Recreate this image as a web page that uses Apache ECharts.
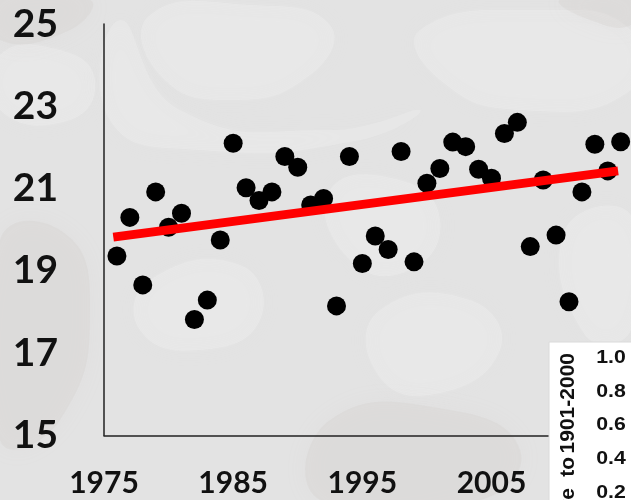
<!DOCTYPE html>
<html>
<head>
<meta charset="utf-8">
<script src="https://cdn.jsdelivr.net/npm/echarts@6/dist/echarts.min.js"></script>
<style>
  html, body { margin: 0; padding: 0; background: #e3e3e3; }
  #chart { width: 631px; height: 500px; }
</style>
</head>
<body>
<div id="chart"></div>
<script>
// Annual values, 1976-2015
const years = [1976, 1977, 1978, 1979, 1980, 1981, 1982, 1983, 1984, 1985,
               1986, 1987, 1988, 1989, 1990, 1991, 1992, 1993, 1994, 1995,
               1996, 1997, 1998, 1999, 2000, 2001, 2002, 2003, 2004, 2005,
               2006, 2007, 2008, 2009, 2010, 2011, 2012, 2013, 2014, 2015];
const values = [19.36, 20.30, 18.66, 20.92, 20.06, 20.40, 17.82, 18.29, 19.75, 22.10,
                21.02, 20.71, 20.92, 21.78, 21.52, 20.60, 20.76, 18.15, 21.78, 19.18,
                19.85, 19.52, 21.90, 19.22, 21.13, 21.49, 22.13, 22.02, 21.47, 21.25,
                22.34, 22.61, 19.59, 21.21, 19.87, 18.25, 20.92, 22.08, 21.43, 22.14];

// Linear trend, start and end
const trendYears = [1975.72, 2014.8];
const trendValues = [19.82, 21.43];

// Inset scale labels (anomaly axis) and its rotated title, word by word
const insetTicks = ['1.0', '0.8', '0.6', '0.4', '0.2'];
const insetTitleWords = ['1901-2000', 'to', 'relative'];

const chart = echarts.init(document.getElementById('chart'), null, { renderer: 'canvas' });

const fontMain = 'Lato, "Open Sans", sans-serif';
const fontInset = '"Liberation Sans", Arial, sans-serif';

// Soft, low-contrast mottled backdrop
const lightPatches = [
  [[150, 15], [250, 5], [330, 25], [310, 75], [230, 100], [160, 75]],
  [[420, 30], [540, 10], [631, 30], [631, 90], [520, 110], [440, 80]],
  [[0, 55], [60, 50], [95, 80], [70, 120], [0, 110]],
  [[330, 190], [400, 180], [440, 220], [410, 270], [350, 260]],
  [[150, 280], [240, 265], [260, 320], [200, 350], [140, 330]],
  [[565, 230], [631, 215], [631, 330], [585, 335]],
  [[380, 310], [470, 300], [500, 350], [430, 395], [375, 370]],
  [[120, 20], [180, 110], [330, 130], [420, 110], [360, 140], [200, 150], [110, 120]]
];
const darkPatches = [
  [[0, 0], [90, 0], [70, 30], [0, 40]],
  [[0, 240], [60, 230], [90, 300], [60, 420], [0, 440]],
  [[330, 420], [450, 410], [520, 450], [480, 500], [320, 500]],
  [[560, 0], [631, 0], [631, 25], [590, 20]]
];
const graphics = [];
lightPatches.forEach(function (pts) {
  graphics.push({
    type: 'polygon', silent: true, z: -10,
    shape: { points: pts, smooth: 0.5 },
    style: { fill: 'rgba(248,248,246,0.24)', shadowBlur: 24, shadowColor: 'rgba(248,248,246,0.35)' }
  });
});
darkPatches.forEach(function (pts) {
  graphics.push({
    type: 'polygon', silent: true, z: -10,
    shape: { points: pts, smooth: 0.5 },
    style: { fill: 'rgba(205,200,196,0.22)', shadowBlur: 24, shadowColor: 'rgba(205,200,196,0.3)' }
  });
});

// Inset panel in the lower right corner
graphics.push({
  type: 'rect', z: 100, silent: true,
  shape: { x: 549, y: 342, width: 90, height: 170 },
  style: { fill: '#ffffff', stroke: '#dadada', lineWidth: 1 }
});
insetTicks.forEach(function (t, i) {
  graphics.push({
    type: 'text', z: 101, silent: true,
    x: 611, y: 358 + i * 33.6, scaleX: 1.12,
    style: { text: t, font: 'bold 19px ' + fontInset, fill: '#111', align: 'center', verticalAlign: 'middle' }
  });
});
// Rotated title, read bottom to top; each word anchored at its upper end
const titleAnchors = [353, 457, 488];
insetTitleWords.forEach(function (w, i) {
  graphics.push({
    type: 'text', z: 101, silent: true,
    x: 568, y: titleAnchors[i], rotation: Math.PI / 2,
    style: { text: w, font: 'bold 21px ' + fontInset, fill: '#111', align: 'right', verticalAlign: 'middle' }
  });
});

const option = {
  backgroundColor: '#e3e3e3',
  animation: false,
  grid: { left: 104, top: 24, right: 0, height: 411.5, containLabel: false },
  xAxis: {
    type: 'value', min: 1975, max: 2015.8, interval: 10,
    axisLine: { show: true, onZero: false, lineStyle: { color: '#222', width: 1.5 } },
    axisTick: { show: false },
    splitLine: { show: false },
    axisLabel: {
      margin: 33, fontSize: 30, fontWeight: 'bold', fontFamily: fontMain, color: '#111',
      showMaxLabel: false,
      formatter: function (v) { return v <= 2005 ? String(v) : ''; }
    }
  },
  yAxis: {
    type: 'value', min: 15, max: 25, interval: 2,
    axisLine: { show: true, onZero: false, lineStyle: { color: '#222', width: 1.5 } },
    axisTick: { show: false },
    splitLine: { show: false },
    axisLabel: { margin: 46, fontSize: 39, fontWeight: 'bold', fontFamily: fontMain, color: '#111' }
  },
  series: [
    {
      type: 'scatter',
      data: years.map(function (y, i) { return [y, values[i]]; }),
      symbolSize: 19,
      itemStyle: { color: '#000', opacity: 1 },
      z: 2
    },
    {
      type: 'line',
      data: trendYears.map(function (y, i) { return [y, trendValues[i]]; }),
      symbol: 'none',
      lineStyle: { color: '#ff0000', width: 9, cap: 'butt' },
      z: 3
    }
  ],
  graphic: graphics
};

chart.setOption(option);
</script>
</body>
</html>
